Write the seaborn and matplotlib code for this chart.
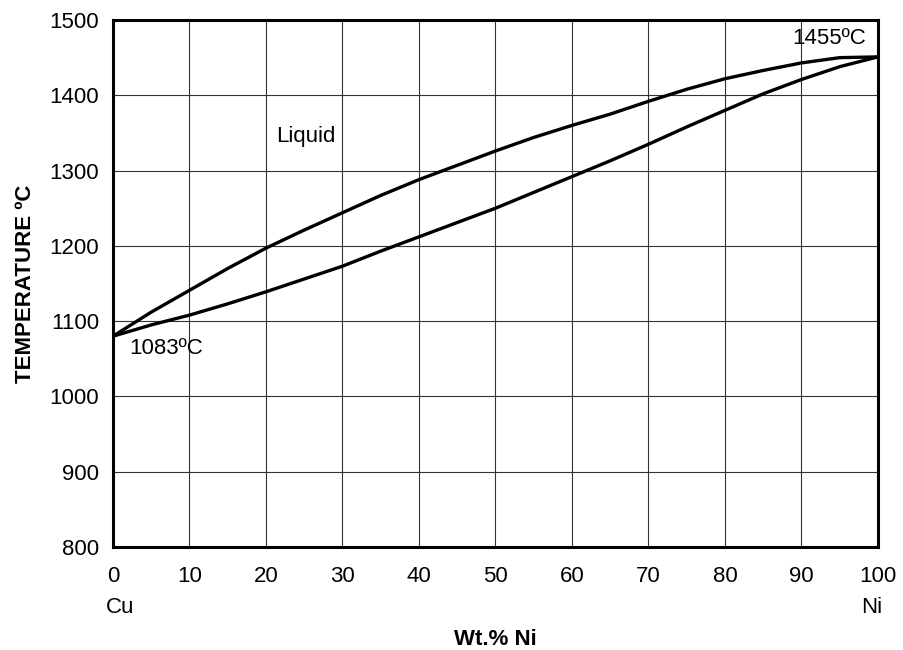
import matplotlib
matplotlib.use('Agg')
import matplotlib.pyplot as plt
import seaborn as sns
import pandas as pd

# Cu-Ni phase diagram
wt_ni = [0, 5, 10, 15, 20, 25, 30, 35, 40, 45, 50, 55, 60, 65, 70, 75, 80, 85, 90, 95, 100]
liquidus = [1080, 1112, 1141, 1170, 1197, 1221, 1244, 1267, 1288, 1307, 1326, 1344,
            1360, 1375, 1392, 1408, 1422, 1433, 1443, 1450, 1451]
solidus = [1080, 1095, 1108, 1123, 1139, 1156, 1173, 1193, 1212, 1231, 1250, 1271,
           1292, 1313, 1335, 1358, 1380, 1402, 1421, 1438, 1451]

x_ticks = [0, 10, 20, 30, 40, 50, 60, 70, 80, 90, 100]
y_ticks = [800, 900, 1000, 1100, 1200, 1300, 1400, 1500]

sns.set_style('white')
plt.rcParams['font.family'] = ['Liberation Sans', 'DejaVu Sans']
plt.rcParams['text.color'] = 'black'
plt.rcParams['axes.labelcolor'] = 'black'

df = pd.DataFrame({
    'wt': wt_ni * 2,
    'temp': liquidus + solidus,
    'curve': ['liquidus'] * len(wt_ni) + ['solidus'] * len(wt_ni),
})

fig = plt.figure(figsize=(9.04, 6.5), dpi=100)
ax = fig.add_axes([113 / 904, 103 / 650, 765 / 904, 527 / 650])

sns.lineplot(data=df, x='wt', y='temp', units='curve', estimator=None,
             color='black', linewidth=2.4, ax=ax, legend=False)

ax.set_xlim(0, 100)
ax.set_ylim(800, 1500)
ax.set_xticks(x_ticks)
ax.set_yticks(y_ticks)
ax.grid(True, color='#333333', linewidth=0.8)
ax.set_axisbelow(True)
for s in ax.spines.values():
    s.set_linewidth(2.2)
    s.set_color('black')

ax.tick_params(axis='both', length=0, labelsize=16, colors='black')
ax.tick_params(axis='x', pad=14)
ax.tick_params(axis='y', pad=10)

ax.set_xlabel('Wt.% Ni', fontsize=16, fontweight='bold', labelpad=30)
ax.set_ylabel('TEMPERATURE ºC', fontsize=16, fontweight='bold', labelpad=10)

# element names under the axis ends
ax.text(0.9, 720, 'Cu', fontsize=16, ha='center', va='center', clip_on=False)
ax.text(99.2, 720, 'Ni', fontsize=16, ha='center', va='center', clip_on=False)

ax.text(25.2, 1345, 'Liquid', fontsize=16, ha='center', va='center')
ax.text(6.9, 1064, '1083ºC', fontsize=16, ha='center', va='center')
ax.text(93.6, 1476, '1455ºC', fontsize=16, ha='center', va='center')

fig.savefig('out.png', dpi=100)
